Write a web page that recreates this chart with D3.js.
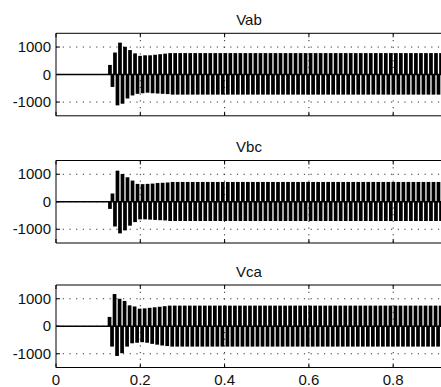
<!DOCTYPE html>
<html>
<head>
<meta charset="utf-8">
<script src="https://cdn.jsdelivr.net/npm/d3@7"></script>
<style>
  html, body { margin: 0; padding: 0; background: #fff; }
  svg { display: block; }
  text { font-family: "Liberation Sans", Arial, sans-serif; fill: #111; }
</style>
</head>
<body>
<div id="chart"></div>
<script>
// data
const titles = ['Vab', 'Vbc', 'Vca'];
const xTicks = [0, 0.2, 0.4, 0.6, 0.8];
const yTicks = [-1000, 0, 1000];
const onset = [0.128, 0.128, 0.127];   // s, when the voltage appears
const period = 0.0119;                 // s, one oscillation as seen in the plot
const tEnd = 1.0;

// half-cycle peaks during the transient (alternating sign)
const vabPeaks = [350, -450, 800, -1120, 1160, -1060, 1010, -870, 890, -760, 770, -700,
  680, -680, 700, -660, 700, -680, 720, -690, 740, -700, 760, -710];
const vbcPeaks = [-260, 300, -900, 1130, -1150, 1010, -1040, 890, -870, 770, -740, 650,
  -640, 640, -640, 650, -650, 660, -660, 680, -670, 690, -680, 700];
const vcaPeaks = [340, -740, 1170, -1080, 1000, -980, 920, -740, 760, -620, 720, -600,
  640, -580, 650, -600, 670, -640, 690, -670, 710, -700, 730, -720];
// steady-state peaks [positive, negative]
const vabSteady = [780, -730];
const vbcSteady = [720, -700];
const vcaSteady = [750, -740];

const peaks = [vabPeaks, vbcPeaks, vcaPeaks];
const steady = [vabSteady, vbcSteady, vcaSteady];

const W = 441, H = 387;
const left = 56;
const tops = [33.3, 160.5, 285];
const ph = 82.5;

const svg = d3.select('#chart').append('svg')
  .attr('width', W)
  .attr('height', H);

svg.append('rect').attr('width', W).attr('height', H).attr('fill', '#fff');

const x = d3.scaleLinear().domain([0, 1]).range([left, left + 421.5]);

titles.forEach((name, i) => {
  const top = tops[i];
  const y = d3.scaleLinear().domain([-1500, 1500]).range([top + ph, top]);
  const g = svg.append('g');

  // grid
  g.selectAll('.gy').data(yTicks).enter().append('line')
    .attr('x1', left).attr('x2', W + 10)
    .attr('y1', d => y(d)).attr('y2', d => y(d))
    .attr('stroke', '#333').attr('stroke-width', 1)
    .attr('stroke-dasharray', '1.2,5.5');
  g.selectAll('.gx').data(xTicks.slice(1)).enter().append('line')
    .attr('x1', d => x(d)).attr('x2', d => x(d))
    .attr('y1', top).attr('y2', top + ph)
    .attr('stroke', '#333').attr('stroke-width', 1)
    .attr('stroke-dasharray', '1.2,5.5');

  // build the half-cycle sequence
  const seq = peaks[i].slice();
  let k = seq.length;
  let pos = seq[seq.length - 1] < 0;
  while (onset[i] + k * period / 2 < tEnd + 0.1) {
    seq.push(pos ? steady[i][0] : steady[i][1]);
    pos = !pos;
    k++;
  }
  const bw = (x(period) - x(0)) * 0.74;

  // zero level trace
  g.append('line')
    .attr('x1', x(0)).attr('x2', W + 10)
    .attr('y1', y(0)).attr('y2', y(0))
    .attr('stroke', '#000').attr('stroke-width', 1.6);

  g.selectAll('.bar').data(seq).enter().append('rect')
    .attr('x', (d, j) => x(onset[i] + j * period / 2) - bw / 2)
    .attr('width', bw)
    .attr('y', d => d > 0 ? y(d) : y(0))
    .attr('height', d => Math.abs(y(d) - y(0)))
    .attr('fill', '#000');

  // axes box (right side runs off the page)
  g.append('line').attr('x1', left).attr('x2', W + 10)
    .attr('y1', top).attr('y2', top).attr('stroke', '#000');
  g.append('line').attr('x1', left).attr('x2', W + 10)
    .attr('y1', top + ph).attr('y2', top + ph).attr('stroke', '#000');
  g.append('line').attr('x1', left).attr('x2', left)
    .attr('y1', top).attr('y2', top + ph).attr('stroke', '#000');

  // inward ticks
  g.selectAll('.tb').data(xTicks).enter().append('path')
    .attr('d', d => `M${x(d)},${top + ph}v-4M${x(d)},${top}v4`)
    .attr('stroke', '#000');
  g.selectAll('.tl').data(yTicks).enter().append('path')
    .attr('d', d => `M${left},${y(d)}h4`)
    .attr('stroke', '#000');

  // y labels
  g.selectAll('.yl').data(yTicks).enter().append('text')
    .attr('x', left - 5)
    .attr('y', d => y(d) + 5)
    .attr('text-anchor', 'end')
    .style('font-size', '15px')
    .text(d => d);

  // title
  g.append('text')
    .attr('x', 249)
    .attr('y', top - 8.5)
    .attr('text-anchor', 'middle')
    .style('font-size', '15px')
    .text(name);
});

// x labels under the last panel
svg.selectAll('.xl').data(xTicks).enter().append('text')
  .attr('x', d => x(d))
  .attr('y', 385)
  .attr('text-anchor', 'middle')
  .style('font-size', '15px')
  .text(d => d === 0 ? '0' : d.toFixed(1));
</script>
</body>
</html>
